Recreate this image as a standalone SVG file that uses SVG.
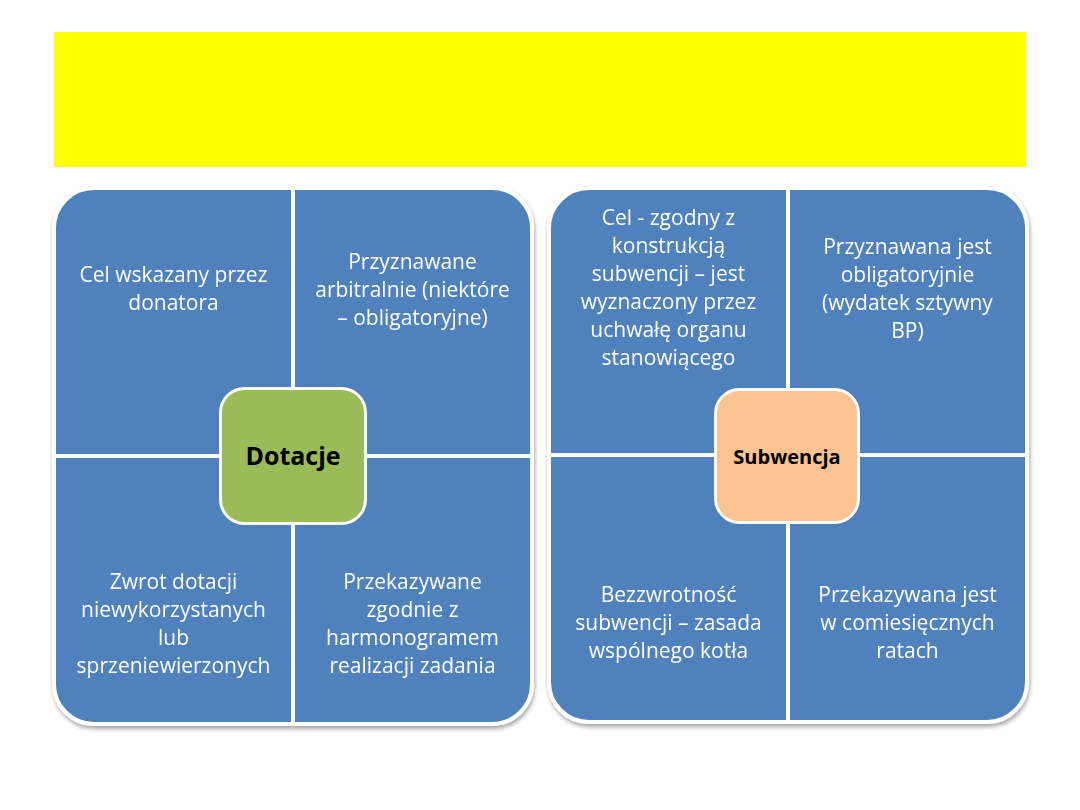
<svg xmlns="http://www.w3.org/2000/svg" width="1080" height="810" viewBox="0 0 1080 810">
<defs>
<filter id="sh" x="-5%" y="-5%" width="110%" height="110%">
<feGaussianBlur in="SourceAlpha" stdDeviation="2"/>
<feOffset dx="1" dy="3" result="b"/>
<feComponentTransfer><feFuncA type="linear" slope="0.35"/></feComponentTransfer>
<feMerge><feMergeNode/><feMergeNode in="SourceGraphic"/></feMerge>
</filter>
</defs>
<style>
.q{fill:#4F81BD;stroke:#FFFFFF;stroke-width:4}
.t{font-family:"Open Sans","Liberation Sans",sans-serif;font-size:21px;fill:#FFFFFF;text-anchor:middle}
.c{stroke:#FFFFFF;stroke-width:3}
.ct{font-family:"Open Sans","Liberation Sans",sans-serif;font-weight:bold;fill:#000000;text-anchor:middle}
</style>
<rect id="banner" x="54" y="32" width="972" height="135" fill="#FFFF00"/>

<g id="dotacje-matrix" filter="url(#sh)">
<g id="q-l-tl"><path class="q" d="M54,456 V228 A40,40 0 0 1 94,188 H293 V456 Z"/>
<text class="t" x="173.5" y="282">Cel wskazany przez</text><text class="t" x="173.5" y="310">donatora</text></g>
<g id="q-l-tr"><path class="q" d="M293,188 H492 A40,40 0 0 1 532,228 V456 H293 Z"/>
<text class="t" x="412.5" y="269">Przyznawane</text><text class="t" x="412.5" y="297">arbitralnie (niektóre</text><text class="t" x="412.5" y="325">– obligatoryjne)</text></g>
<g id="q-l-bl"><path class="q" d="M54,456 H293 V724 H94 A40,40 0 0 1 54,684 Z"/>
<text class="t" x="173.5" y="589">Zwrot dotacji</text><text class="t" x="173.5" y="617">niewykorzystanych</text><text class="t" x="173.5" y="645">lub</text><text class="t" x="173.5" y="673">sprzeniewierzonych</text></g>
<g id="q-l-br"><path class="q" d="M293,456 H532 V684 A40,40 0 0 1 492,724 H293 Z"/>
<text class="t" x="412.5" y="589">Przekazywane</text><text class="t" x="412.5" y="617">zgodnie z</text><text class="t" x="412.5" y="645">harmonogramem</text><text class="t" x="412.5" y="673">realizacji zadania</text></g>
</g>
<g id="dotacje">
<rect class="c" x="220.5" y="388.5" width="145" height="135" rx="24" fill="#9BBB59"/>
<text class="ct" x="293" y="465" font-size="25">Dotacje</text>
</g>

<g id="subwencja-matrix" filter="url(#sh)">
<g id="q-r-tl"><path class="q" d="M549,455 V228 A40,40 0 0 1 589,188 H788 V455 Z"/>
<text class="t" x="668.5" y="225">Cel - zgodny z</text><text class="t" x="668.5" y="253">konstrukcją</text><text class="t" x="668.5" y="281">subwencji – jest</text><text class="t" x="668.5" y="309">wyznaczony przez</text><text class="t" x="668.5" y="337">uchwałę organu</text><text class="t" x="668.5" y="365">stanowiącego</text></g>
<g id="q-r-tr"><path class="q" d="M788,188 H987 A40,40 0 0 1 1027,228 V455 H788 Z"/>
<text class="t" x="907.5" y="254">Przyznawana jest</text><text class="t" x="907.5" y="282">obligatoryjnie</text><text class="t" x="907.5" y="310">(wydatek sztywny</text><text class="t" x="907.5" y="338">BP)</text></g>
<g id="q-r-bl"><path class="q" d="M549,455 H788 V722 H589 A40,40 0 0 1 549,682 Z"/>
<text class="t" x="668.5" y="602">Bezzwrotność</text><text class="t" x="668.5" y="630">subwencji – zasada</text><text class="t" x="668.5" y="658">wspólnego kotła</text></g>
<g id="q-r-br"><path class="q" d="M788,455 H1027 V682 A40,40 0 0 1 987,722 H788 Z"/>
<text class="t" x="907.5" y="602">Przekazywana jest</text><text class="t" x="907.5" y="630">w comiesięcznych</text><text class="t" x="907.5" y="658">ratach</text></g>
</g>
<g id="subwencja">
<rect class="c" x="715.5" y="389.5" width="143" height="133" rx="24" fill="#FAC391"/>
<text class="ct" x="787" y="464" font-size="20">Subwencja</text>
</g>
<g id="connectors"/>
</svg>
